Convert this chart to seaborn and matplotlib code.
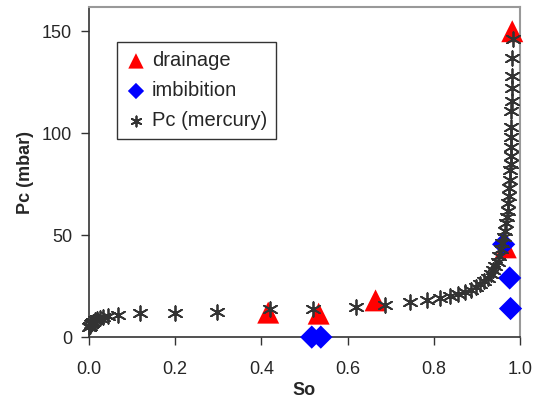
import pandas as pd
import matplotlib.pyplot as plt
import seaborn as sns

# drainage measurements
drain_so = [0.416, 0.533, 0.665, 0.967, 0.982]
drain_pc = [12, 11.5, 18, 44, 150]

# imbibition measurements
imb_so = [0.517, 0.538, 0.962, 0.976, 0.978]
imb_pc = [0, 0, 45.5, 29, 14]

# mercury injection curve
hg_so = [0.0, 0.002, 0.004, 0.007, 0.010, 0.014, 0.019, 0.025, 0.033, 0.045, 0.068,
         0.118, 0.200, 0.298, 0.420, 0.520, 0.620, 0.686, 0.744, 0.785, 0.815, 0.838,
         0.857, 0.873, 0.887, 0.898, 0.908, 0.917, 0.925, 0.932, 0.938, 0.943, 0.948,
         0.952, 0.956, 0.959, 0.962, 0.965, 0.967, 0.969, 0.971, 0.972, 0.974, 0.975,
         0.976, 0.977, 0.978, 0.978, 0.979, 0.979, 0.980, 0.980, 0.981, 0.981, 0.982,
         0.982, 0.983]
hg_pc = [5, 5.5, 6.5, 7, 7.5, 8.5, 9, 9.5, 10, 10.5, 11,
         11.7, 12, 12.3, 14, 14, 15, 15.7, 17, 18, 19, 20,
         21, 22, 23, 24.5, 26, 27.5, 29, 31, 33, 35, 37,
         40, 43, 46, 49, 52, 56, 59, 62, 66, 69, 73,
         77, 82, 85, 89, 93, 98, 103, 111, 116, 122, 128,
         137, 146]

sns.set_style('ticks')
plt.rcParams['font.family'] = ['Liberation Sans', 'DejaVu Sans']

fig = plt.figure(figsize=(5.35, 3.98), dpi=100)
ax = fig.add_axes([0.166, 0.153, 0.806, 0.829])

sns.scatterplot(x=drain_so, y=drain_pc, ax=ax, marker='^', s=250, color='#ff0000',
                edgecolor='none', label='drainage', clip_on=False, zorder=3)
sns.scatterplot(x=imb_so, y=imb_pc, ax=ax, marker='D', s=140, color='#0000ff',
                edgecolor='none', label='imbibition', clip_on=False, zorder=3)
sns.scatterplot(x=hg_so, y=hg_pc, ax=ax, marker=(6, 2, 0), s=110, color='#333333',
                linewidth=1.3, label='Pc (mercury)', clip_on=False, zorder=4)

ax.set_xlim(0, 1)
ax.set_ylim(0, 161.8)
ax.set_xticks([0, 0.2, 0.4, 0.6, 0.8, 1.0])
ax.set_xticklabels(['0.0', '0.2', '0.4', '0.6', '0.8', '1.0'])
ax.set_yticks([0, 50, 100, 150])
ax.tick_params(labelsize=13, length=6, width=1, color='#333333')
ax.tick_params(axis='x', pad=11)
ax.tick_params(axis='y', pad=6)
ax.set_xlabel('So', fontsize=13, fontweight='bold', labelpad=3)
ax.set_ylabel('Pc (mbar)', fontsize=13, fontweight='bold', labelpad=6)

for side in ['top', 'right']:
    ax.spines[side].set_color('#999999')
    ax.spines[side].set_linewidth(1.5)
for side in ['left', 'bottom']:
    ax.spines[side].set_color('#333333')
    ax.spines[side].set_linewidth(1.2)

leg = ax.legend(loc='upper left', bbox_to_anchor=(0.065, 0.894), fontsize=14.5,
                frameon=True, fancybox=False, edgecolor='black', handletextpad=0.3,
                borderpad=0.45, labelspacing=0.55, handlelength=1.0, markerscale=0.7,
                borderaxespad=0)
leg.get_frame().set_linewidth(1.0)

plt.savefig('out.png', dpi=100)
